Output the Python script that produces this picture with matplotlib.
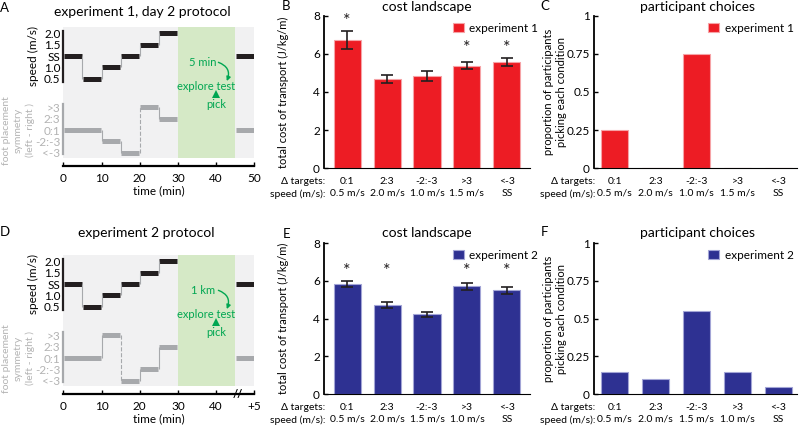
import numpy as np
import matplotlib
matplotlib.use('Agg')
import matplotlib.pyplot as plt
from matplotlib.transforms import blended_transform_factory

plt.rcParams['font.family'] = ['Lato', 'DejaVu Sans']

# ---- protocol data (5 min blocks) ----
block_starts = [0, 5, 10, 15, 20, 25, 45]
block_len = 5
speed_levels = ['2.0', '1.5', 'SS', '1.0', '0.5']
sym_levels = ['>3', '2:3', '0:1', '-2:-3', '<-3']
speed_exp1 = ['SS', '0.5', '1.0', 'SS', '1.5', '2.0', 'SS']
sym_exp1 = ['0:1', '0:1', '-2:-3', '<-3', '>3', '2:3', '0:1']
speed_exp2 = ['SS', '0.5', '1.0', 'SS', '1.5', '2.0', 'SS']
sym_exp2 = ['0:1', '0:1', '>3', '<-3', '-2:-3', '2:3', '0:1']
test_window = (30, 45)

# ---- cost landscape / choices ----
conditions = ['0:1', '2:3', '-2:-3', '>3', '<-3']
speeds_exp1 = ['0.5 m/s', '2.0 m/s', '1.0 m/s', '1.5 m/s', 'SS']
speeds_exp2 = ['0.5 m/s', '2.0 m/s', '1.5 m/s', '1.0 m/s', 'SS']
cot_exp1 = [6.72, 4.67, 4.85, 5.38, 5.56]
cot_err_exp1 = [0.46, 0.22, 0.25, 0.19, 0.22]
sig_exp1 = [7.7, None, None, 6.3, 6.3]
cot_exp2 = [5.83, 4.71, 4.24, 5.72, 5.49]
cot_err_exp2 = [0.15, 0.15, 0.13, 0.18, 0.20]
sig_exp2 = [6.5, 6.5, None, 6.5, 6.5]
choices_exp1 = [0.25, 0, 0.75, 0, 0]
choices_exp2 = [0.15, 0.10, 0.55, 0.15, 0.05]

RED = '#ED1C24'
RED_EDGE = '#F6A3A6'
BLUE = '#2E3192'
BLUE_EDGE = '#A3A5D6'
BLACK = '#231F20'
GRAY = '#A7A9AC'
LABEL_GRAY = '#B3B3B3'
BG = '#F1F1F2'
GREEN_BG = '#D5E9C6'
GREEN = '#00A651'

W, H = 800, 425
fig = plt.figure(figsize=(8, 4.25), dpi=100)


def add_ax(left, top, right, bottom):
    return fig.add_axes([left / W, 1 - bottom / H, (right - left) / W, (bottom - top) / H])


def segments(levels):
    segs = []
    for s, lvl in zip(block_starts, levels):
        if segs and segs[-1][2] == lvl and segs[-1][1] == s:
            segs[-1][1] = s + block_len
        else:
            segs.append([s, s + block_len, lvl])
    return segs


def draw_protocol(ax, speeds, syms, dist_label, xticklabels, broken=False):
    ypos = {lvl: i for i, lvl in enumerate(speed_levels)}
    ypos.update({lvl: 6.5 + i for i, lvl in enumerate(sym_levels)})
    ax.set_facecolor(BG)
    ax.axvspan(*test_window, color=GREEN_BG, lw=0)

    for levels, col in [(speeds, BLACK), (syms, GRAY)]:
        segs = segments(levels)
        for s, e, lvl in segs:
            ax.hlines(ypos[lvl], s + 0.15, e - 0.15, color=col, lw=3.6)
        for a, b in zip(segs[:-1], segs[1:]):
            if a[1] == b[0]:
                y1, y2 = ypos[a[2]], ypos[b[2]]
                ls = '--' if abs(y1 - y2) >= 4 else '-'
                ax.vlines(a[1], y1, y2, color=GRAY, lw=0.8, linestyles=ls)

    ax.set_xlim(0, 50)
    ax.set_ylim(10.95, -0.55)
    ticks = [ypos[l] for l in speed_levels + sym_levels]
    ax.set_yticks(ticks, speed_levels + sym_levels)
    ax.tick_params(axis='y', length=0, pad=2, labelsize=8.5)
    for lbl in ax.get_yticklabels()[len(speed_levels):]:
        lbl.set_color(LABEL_GRAY)
    for side in ['left', 'top', 'right']:
        ax.spines[side].set_visible(False)
    ax.spines['bottom'].set_position(('outward', 6))
    ax.spines['bottom'].set_linewidth(1.6)
    ax.set_xticks([0, 10, 20, 30, 40, 50], xticklabels)
    ax.tick_params(axis='x', direction='in', length=3, width=1, labelsize=8.5, pad=5)
    ax.set_xlabel('time (min)', fontsize=8.5, labelpad=1)

    # side bars for the two y groups
    ax.plot([0, 0], [-0.2, 4.25], color=BLACK, lw=1.6, clip_on=False)
    ax.plot([0, 0], [6.2, 10.6], color=GRAY, lw=1.6, clip_on=False)
    tr = blended_transform_factory(ax.transAxes, ax.transData)
    ax.text(-0.155, 2, 'speed (m/s)', transform=tr, rotation=90, ha='center',
            va='center', fontsize=8.5)
    ax.text(-0.235, 8.5, 'foot placement\nsymmetry\n(left - right )', transform=tr,
            rotation=90, ha='center', va='center', fontsize=7.5, color=LABEL_GRAY,
            linespacing=1.4)

    # exploration annotation
    ax.text(36.6, 2.57, dist_label, color=GREEN, ha='center', va='center', fontsize=8)
    ax.annotate('', xy=(42.8, 4.2), xytext=(40.6, 2.55),
                arrowprops=dict(arrowstyle='-|>', color=GREEN, lw=1,
                                connectionstyle='arc3,rad=-0.5', mutation_scale=6,
                                shrinkA=0, shrinkB=0))
    ax.text(37.4, 4.69, 'explore test', color=GREEN, ha='center', va='center', fontsize=8)
    ax.plot(40, 5.3, marker='^', color=GREEN, ms=5.5, mew=0)
    ax.text(40.1, 6.25, 'pick', color=GREEN, ha='center', va='center', fontsize=8)

    if broken:
        ax.annotate('//', xy=(45.6, 0), xycoords=('data', 'axes fraction'),
                    xytext=(0, -6), textcoords='offset points', ha='center',
                    va='center', fontsize=8, fontweight='bold', annotation_clip=False)


def draw_bars(ax, values, color, edge, speeds, legend_label, legend_xy,
              errs=None, sig=None, ylim=(0, 8), yticks=None, yticklabels=None,
              ylabel='', ylabel_x=-0.17, xlim=(-0.58, 4.58)):
    x = np.arange(len(values))
    ax.bar(x, values, width=0.68, color=color, edgecolor=edge, lw=0.8, label=legend_label)
    if errs is not None:
        ax.errorbar(x, values, yerr=errs, fmt='none', ecolor=BLACK, elinewidth=1.2,
                    capsize=4.5, capthick=1.2)
    if sig is not None:
        for xi, h in zip(x, sig):
            if h is not None:
                ax.text(xi, h, '*', ha='center', va='center', fontsize=13, color=BLACK)
    ax.set_xlim(*xlim)
    ax.set_ylim(*ylim)
    ax.set_yticks(yticks, yticklabels)
    ax.tick_params(axis='y', direction='in', length=3, width=1, labelsize=8.5, pad=3)
    ax.set_xticks(x, [f'{c}\n{s}' for c, s in zip(conditions, speeds)])
    ax.tick_params(axis='x', length=0, labelsize=7.5, pad=6)
    for lbl in ax.get_xticklabels():
        lbl.set_linespacing(1.45)
    ax.annotate('Δ targets:\nspeed (m/s):', xy=(0, 0), xycoords='axes fraction',
                xytext=(1, -6), textcoords='offset points', ha='right', va='top',
                fontsize=7.5, linespacing=1.45, multialignment='right',
                annotation_clip=False)
    for side in ['top', 'right']:
        ax.spines[side].set_visible(False)
    ax.spines['left'].set_linewidth(1.3)
    ax.spines['bottom'].set_linewidth(0.8)
    ax.set_ylabel(ylabel, fontsize=8, linespacing=1.15)
    ax.yaxis.set_label_coords(ylabel_x, 0.5)
    ax.legend(loc='center left', bbox_to_anchor=(legend_xy[0] / W, 1 - legend_xy[1] / H),
              bbox_transform=fig.transFigure, frameon=False, fontsize=8.5, borderpad=0,
              handlelength=0.97, handleheight=0.8, handletextpad=0.45, borderaxespad=0)


# panel A / D: protocols
axA = add_ax(63.3, 27, 254.3, 158)
draw_protocol(axA, speed_exp1, sym_exp1, '5 min', ['0', '10', '20', '30', '40', '50'])
axD = add_ax(63.3, 255, 254.3, 386)
draw_protocol(axD, speed_exp2, sym_exp2, '1 km', ['0', '10', '20', '30', '40', '+5'], broken=True)

# panel B / E: cost landscape
cot_ticks = [0, 2, 4, 6, 8]
axB = add_ax(324, 15.7, 530, 168.3)
draw_bars(axB, cot_exp1, RED, RED_EDGE, speeds_exp1, 'experiment 1', (452.7, 28.5),
          errs=cot_err_exp1, sig=sig_exp1, yticks=cot_ticks,
          yticklabels=[str(t) for t in cot_ticks], ylabel='total cost of transport (J/kg/m)')
axE = add_ax(324, 243, 530, 394.3)
draw_bars(axE, cot_exp2, BLUE, BLUE_EDGE, speeds_exp2, 'experiment 2', (452.7, 255.5),
          errs=cot_err_exp2, sig=sig_exp2, yticks=cot_ticks,
          yticklabels=[str(t) for t in cot_ticks], ylabel='total cost of transport (J/kg/m)')

# panel C / F: choices
prop_ticks = [0, 0.25, 0.5, 0.75, 1]
prop_labels = ['0', '0.25', '0.5', '0.75', '1']
axC = add_ax(594, 15.7, 797, 168.3)
draw_bars(axC, choices_exp1, RED, RED_EDGE, speeds_exp1, 'experiment 1', (708, 28.5),
          ylim=(0, 1), yticks=prop_ticks, yticklabels=prop_labels,
          ylabel='proportion of participants\npicking each condition', ylabel_x=-0.135,
          xlim=(-0.5, 4.45))
axF = add_ax(594, 243, 797, 394.3)
draw_bars(axF, choices_exp2, BLUE, BLUE_EDGE, speeds_exp2, 'experiment 2', (708, 255.5),
          ylim=(0, 1), yticks=prop_ticks, yticklabels=prop_labels,
          ylabel='proportion of participants\npicking each condition', ylabel_x=-0.135,
          xlim=(-0.5, 4.45))

# titles and panel letters
titles = [('experiment 1, day 2 protocol', 142, 12), ('cost landscape', 427, 7),
          ('participant choices', 697, 7), ('experiment 2 protocol', 146, 233),
          ('cost landscape', 427, 233), ('participant choices', 697, 233)]
for txt, x, y in titles:
    fig.text(x / W, 1 - y / H, txt, ha='center', va='center', fontsize=10)
letters = [('A', 4.5, 8), ('B', 286, 6), ('C', 545, 6), ('D', 4.5, 232),
           ('E', 287, 233.5), ('F', 545, 232)]
for txt, x, y in letters:
    fig.text(x / W, 1 - y / H, txt, ha='center', va='center', fontsize=9.5)

fig.savefig('out.png', dpi=100)
